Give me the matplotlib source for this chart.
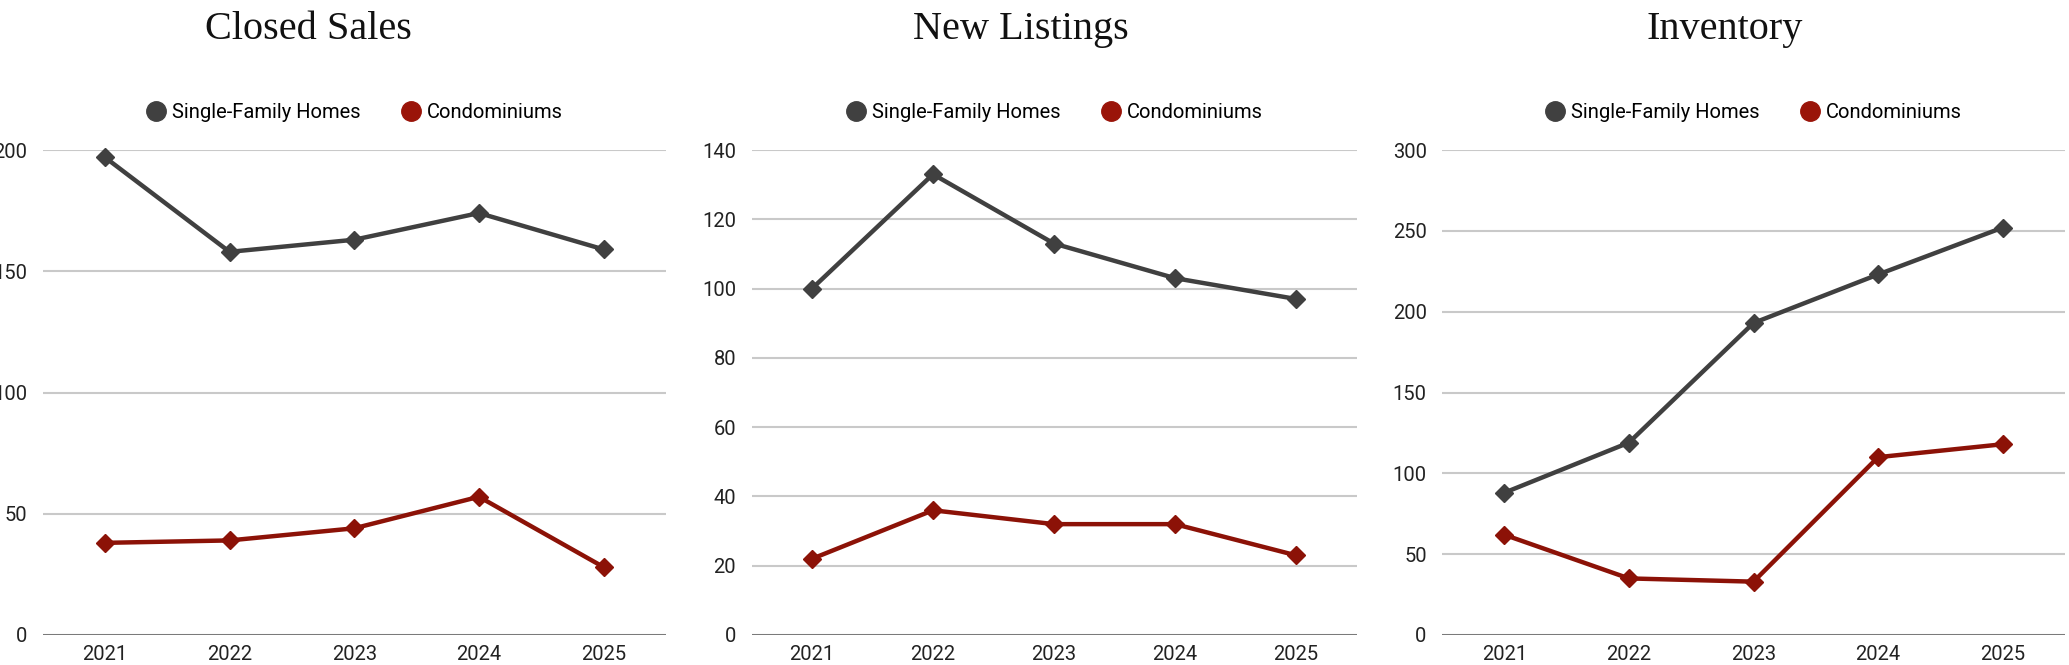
import matplotlib
matplotlib.use("Agg")
import matplotlib.pyplot as plt
from matplotlib.lines import Line2D

years = ["2021", "2022", "2023", "2024", "2025"]
series_names = ["Single-Family Homes", "Condominiums"]

titles = ["Closed Sales", "New Listings", "Inventory"]

closed_sfh = [197, 158, 163, 174, 159]
closed_condo = [38, 39, 44, 57, 28]

listings_sfh = [100, 133, 113, 103, 97]
listings_condo = [22, 36, 32, 32, 23]

inventory_sfh = [88, 119, 193, 223, 252]
inventory_condo = [62, 35, 33, 110, 118]

y_max = [200, 140, 300]
y_step = [50, 20, 50]

W, H = 2069, 665
DPI = 100

SFH_COLOR = "#404040"
CONDO_COLOR = "#8c1207"
GRID_COLOR = "#c9c9c9"
AXIS_COLOR = "#7a7a7a"

SANS = ["Roboto", "DejaVu Sans"]
SERIF = ["Liberation Serif", "DejaVu Serif"]

plt.rcParams["font.family"] = SANS

fig = plt.figure(figsize=(W / DPI, H / DPI), dpi=DPI)

# axes boxes in pixels: left, width   (top at 150px, zero line at 635px)
boxes = [(42.5, 623.5), (751.5, 605), (1442, 623)]
title_x = [308, 1021, 1725]
ax_top, ax_bot = 150, 635

data = [(closed_sfh, closed_condo), (listings_sfh, listings_condo),
        (inventory_sfh, inventory_condo)]

for i in range(3):
  left, width = boxes[i]
  ax = fig.add_axes([left / W, (H - ax_bot) / H, width / W, (ax_bot - ax_top) / H])
  sfh, condo = data[i]
  xs = list(range(len(years)))

  ax.plot(xs, sfh, color=SFH_COLOR, lw=3.2, marker="D", ms=9,
          zorder=3, clip_on=False, solid_joinstyle="round")
  ax.plot(xs, condo, color=CONDO_COLOR, lw=3.2, marker="D", ms=9,
          zorder=3, clip_on=False, solid_joinstyle="round")

  ax.set_xlim(-0.5, len(years) - 0.5)
  ax.set_ylim(0, y_max[i])
  ticks = list(range(0, y_max[i] + 1, y_step[i]))
  ax.set_yticks(ticks)
  ax.set_yticklabels([str(t) for t in ticks])
  ax.set_xticks(xs)
  ax.set_xticklabels(years)

  for t in ticks[1:]:
    ax.axhline(t, color=GRID_COLOR, lw=1.5, zorder=1)
  ax.axhline(0, color=AXIS_COLOR, lw=2.2, zorder=2)

  for s in ax.spines.values():
    s.set_visible(False)
  ax.tick_params(axis="both", length=0, labelsize=14.5, colors="#222222")
  ax.tick_params(axis="y", pad=11)
  ax.tick_params(axis="x", pad=7)

  handles = [Line2D([], [], ls="none", marker="o", ms=14, color=SFH_COLOR),
             Line2D([], [], ls="none", marker="o", ms=14, color="#9a1409")]
  ax.legend(handles, series_names, loc="center", ncol=2,
            bbox_to_anchor=(0.5, 1 + 37 / (ax_bot - ax_top)),
            frameon=False, fontsize=14.5, handletextpad=0.3,
            columnspacing=2.0, handlelength=1.0, borderaxespad=0)

  fig.text(title_x[i] / W, 1 - 39 / H, titles[i], ha="center", va="baseline",
           fontsize=29, family=SERIF, color="#111111")

fig.savefig("out.png", dpi=DPI)
